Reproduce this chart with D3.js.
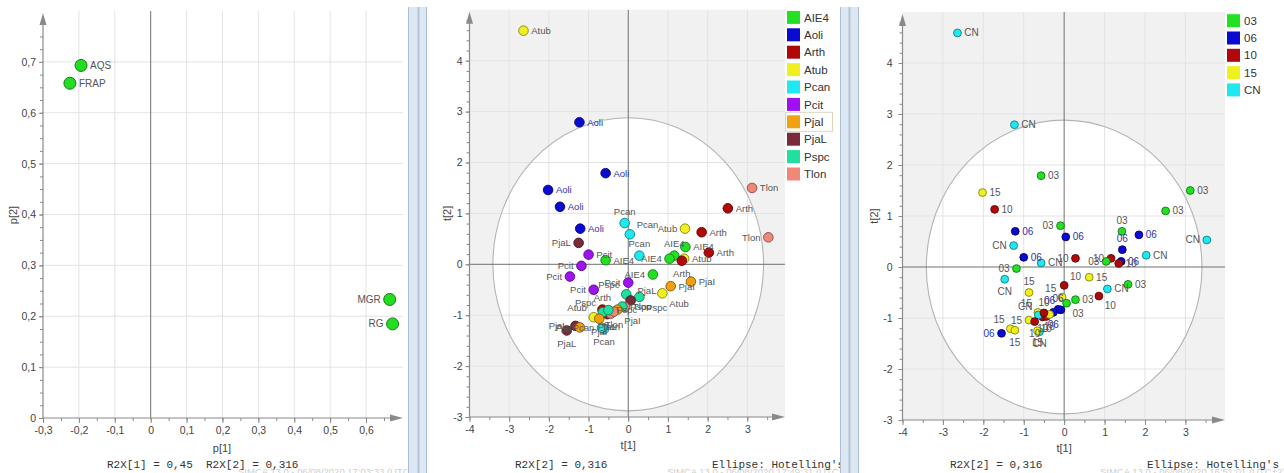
<!DOCTYPE html>
<html>
<head>
<meta charset="utf-8">
<script src="https://cdn.jsdelivr.net/npm/d3@7"></script>
<style>
  html, body { margin: 0; padding: 0; background: #fff; }
  svg { display: block; font-family: "Liberation Sans", Arial, sans-serif; }
</style>
</head>
<body>
<svg id="chart" width="1284" height="473"></svg>
<script>
// ---------------- Loadings (p[1] / p[2]) ----------------
const loadingNames = ["AQS", "FRAP", "MGR", "RG"];
const loadingP1 = [-0.194, -0.225, 0.666, 0.674];
const loadingP2 = [0.693, 0.658, 0.233, 0.185];
const loadingLabelSide = ["r", "r", "l", "l"];
const p1Ticks = [-0.3, -0.2, -0.1, 0, 0.1, 0.2, 0.3, 0.4, 0.5, 0.6];
const p1TickLabels = ["-0,3", "-0,2", "-0,1", "0", "0,1", "0,2", "0,3", "0,4", "0,5", "0,6"];
const p2Ticks = [0, 0.1, 0.2, 0.3, 0.4, 0.5, 0.6, 0.7];
const p2TickLabels = ["0", "0,1", "0,2", "0,3", "0,4", "0,5", "0,6", "0,7"];

// ---------------- Scores (t[1] / t[2]) ----------------
const speciesGroups = ["AIE4", "Aoli", "Arth", "Atub", "Pcan", "Pcit", "PjaI", "PjaL", "Pspc", "Tlon"];
const speciesColors = ["#22e022", "#0a0ad0", "#b00808", "#f0f020", "#20e8f0", "#a010f0", "#f0a010", "#7a2a38", "#20e0a0", "#f08878"];
const concGroups = ["03", "06", "10", "15", "CN"];
const concColors = ["#22e022", "#0a0ad0", "#b00808", "#f0f020", "#20e8f0"];

const scoreSpecies = ["Atub","Aoli","Aoli","Aoli","Aoli","Aoli","Tlon","Arth","Tlon","Pcan",
                      "Pcan","Atub","Arth","AIE4","Arth","AIE4","AIE4","Atub","Arth","Pcan",
                      "AIE4","PjaL","Pcit","Pcit","Pcit","Pcit","Pcit","AIE4","PjaI","PjaI",
                      "Atub","Pspc","Pspc","PjaL","Tlon","Pspc","Arth","PjaI","PjaL","Tlon",
                      "Pspc","Atub","PjaI","Pcan","Pcan","PjaL","PjaL","PjaI","Tlon","Pspc"];
const scoreConc = ["CN","CN","03","15","10","06","03","03","CN","03",
                   "06","03","06","06","CN","10","03","06","10","10",
                   "CN","CN","06","03","CN","15","10","15","03","CN",
                   "10","15","03","03","06","06","15","06","10","10",
                   "CN","15","10","CN","15","06","15","15","15","10"];
const scoreT1 = [-2.64,-1.23,-0.57,-2.02,-1.72,-1.21, 3.12, 2.51, 3.53,-0.09,
                  0.04, 1.43, 1.85, 1.44, 2.03, 1.16, 1.04, 1.41, 1.35, 0.28,
                 -0.57,-1.25,-1.00,-1.18,-1.47,-0.87, 0.00, 0.62, 1.58, 1.07,
                  0.86,-0.05, 0.28, 0.06,-0.08,-0.15,-0.65,-0.27,-0.53,-0.44,
                 -0.64,-0.87,-0.73,-0.61,-0.66,-1.55,-1.33,-1.22,-0.36,-0.50];
const scoreT2 = [ 4.59, 2.79, 1.79, 1.46, 1.13, 0.70, 1.50, 1.10, 0.53, 0.81,
                  0.59, 0.70, 0.63, 0.34, 0.23, 0.17, 0.11, 0.11, 0.07, 0.17,
                  0.08, 0.42, 0.19,-0.03,-0.24,-0.50,-0.36,-0.20,-0.34,-0.43,
                 -0.57,-0.59,-0.64,-0.71,-0.84,-0.83,-0.89,-0.89,-0.98,-0.97,
                 -0.94,-1.04,-1.07,-1.27,-1.25,-1.30,-1.21,-1.24,-0.93,-0.90];
const t1Ticks = [-4, -3, -2, -1, 0, 1, 2, 3];
const t1TickLabels = ["-4", "-3", "-2", "-1", "0", "1", "2", "3"];
const t2Ticks = [-3, -2, -1, 0, 1, 2, 3, 4];
const t2TickLabels = ["-3", "-2", "-1", "0", "1", "2", "3", "4"];
// Hotelling's T2 (95%) ellipse semi-axes in score units
const ellipseT1 = 3.41;
const ellipseT2 = 2.88;

// label placement (layout only)
const speciesLabelSide = ["r","r","r","r","r","r","r","r","l","t",
                          "tr","l","r","r","r","t","l","r","b","t",
                          "r","l","r","l","l","l","l","l","r","r",
                          "br","tl","br","tr","r","r","t","br","b","b",
                          "tl","tl","b","b","l","b","l","l","b","r"];
const concLabelSide = ["r","r","r","r","r","r","r","r","l","l",
                       "r","t","r","t","r","l","l","r","r","l",
                       "r","l","r","l","b","t","tr","r","r","r",
                       "br","tl","r","br","tl","t","tl","b","b","b",
                       "tl","l","b","b","b","l","tl","b","b","t"];

// ---------------- helpers ----------------
const svg = d3.select("#chart");
const defs = svg.append("defs");
const AXIS = "#8a8a8a", GRID = "#e3e3e3", ZERO = "#707070", TXT = "#444", LBL = "#555";
const BLUE_LBL = "#2a34a8";

function clip(id, x, y, w, h) {
  defs.append("clipPath").attr("id", id)
    .append("rect").attr("x", x).attr("y", y).attr("width", w).attr("height", h);
  return "url(#" + id + ")";
}

function labelPos(side, r) {
  switch (side) {
    case "l":  return {dx: -(r + 3), dy: 0, a: "end"};
    case "t":  return {dx: 0, dy: -(r + 7), a: "middle"};
    case "b":  return {dx: 0, dy: r + 8, a: "middle"};
    case "tr": return {dx: r + 2, dy: -(r + 5), a: "start"};
    case "tl": return {dx: -(r + 2), dy: -(r + 5), a: "end"};
    case "br": return {dx: r + 2, dy: r + 6, a: "start"};
    case "bl": return {dx: -(r + 2), dy: r + 6, a: "end"};
    default:   return {dx: r + 3, dy: 0, a: "start"};
  }
}

// axes with arrows, major + minor ticks
function drawAxes(g, x, y, o) {
  const [x0, x1] = x.range(), [y0, y1] = y.range();
  // minor ticks (no labels)
  g.append("g").attr("transform", `translate(0,${y0})`)
    .call(d3.axisBottom(x).tickValues(o.xMinor).tickSize(3).tickFormat(() => ""))
    .call(s => { s.select(".domain").remove(); s.selectAll("text").remove(); });
  g.append("g").attr("transform", `translate(${x0},0)`)
    .call(d3.axisLeft(y).tickValues(o.yMinor).tickSize(3).tickFormat(() => ""))
    .call(s => { s.select(".domain").remove(); s.selectAll("text").remove(); });
  // major ticks
  g.append("g").attr("transform", `translate(0,${y0})`)
    .call(d3.axisBottom(x).tickValues(o.xTicks).tickSize(5).tickPadding(o.xPad)
      .tickFormat((d, i) => o.xLabels[i]))
    .call(s => s.select(".domain").remove());
  g.append("g").attr("transform", `translate(${x0},0)`)
    .call(d3.axisLeft(y).tickValues(o.yTicks).tickSize(4).tickPadding(o.yPad)
      .tickFormat((d, i) => o.yLabels[i]))
    .call(s => s.select(".domain").remove());
  g.selectAll(".tick line").attr("stroke", AXIS);
  g.selectAll(".tick text").attr("fill", TXT).style("font-size", "10.5px")
    .style("font-family", "'Liberation Sans', Arial, sans-serif");
  // axis lines + arrow heads
  g.append("line").attr("x1", x0).attr("x2", x1 - 6).attr("y1", y0).attr("y2", y0)
    .attr("stroke", AXIS).attr("stroke-width", 1.2);
  g.append("line").attr("x1", x0).attr("x2", x0).attr("y1", y0).attr("y2", y1 + 6)
    .attr("stroke", AXIS).attr("stroke-width", 1.2);
  g.append("path").attr("fill", AXIS)
    .attr("d", `M${x1},${y0} L${x1 - 13},${y0 - 3.5} L${x1 - 13},${y0 + 3.5} Z`);
  g.append("path").attr("fill", AXIS)
    .attr("d", `M${x0},${y1 + 2} L${x0 - 3.5},${y1 + 14} L${x0 + 3.5},${y1 + 14} Z`);
}

function grid(g, x, y, xs, ys) {
  const [x0, x1] = x.range(), [y0, y1] = y.range();
  g.append("g").selectAll("line").data(xs).join("line")
    .attr("x1", d => x(d)).attr("x2", d => x(d)).attr("y1", y0).attr("y2", y1)
    .attr("stroke", GRID).attr("stroke-width", 1);
  g.append("g").selectAll("line").data(ys).join("line")
    .attr("x1", x0).attr("x2", x1).attr("y1", d => y(d)).attr("y2", d => y(d))
    .attr("stroke", GRID).attr("stroke-width", 1);
}

function zeroLines(g, x, y, vertical, horizontal) {
  const [x0, x1] = x.range(), [y0, y1] = y.range();
  if (vertical) g.append("line").attr("x1", x(0)).attr("x2", x(0)).attr("y1", y0).attr("y2", y1)
    .attr("stroke", ZERO).attr("stroke-width", 1);
  if (horizontal) g.append("line").attr("x1", x0).attr("x2", x1).attr("y1", y(0)).attr("y2", y(0))
    .attr("stroke", ZERO).attr("stroke-width", 1);
}

function monoText(x, y, t, clipUrl) {
  svg.append("text").attr("x", x).attr("y", y).text(t)
    .attr("fill", "#333").attr("clip-path", clipUrl || null)
    .style("font-family", "'Liberation Mono', 'DejaVu Sans Mono', monospace")
    .style("font-size", "11px").attr("xml:space", "preserve").style("white-space", "pre");
}
function stampText(x, t, clipUrl) {
  svg.append("text").attr("x", x).attr("y", 475).text(t)
    .attr("fill", "#cfcfcf").style("font-size", "9.5px").attr("clip-path", clipUrl || null);
}

// ================= Panel 1 : loadings =================
(function () {
  const x = d3.scaleLinear().domain([-0.3, 0.703]).range([43, 403]);
  const y = d3.scaleLinear().domain([0, 0.8]).range([418, 11]);
  const g = svg.append("g");
  grid(g, x, y, p1Ticks.filter(d => d > -0.3 && d !== 0), p2Ticks.filter(d => d > 0));
  zeroLines(g, x, y, true, false);
  drawAxes(g, x, y, {
    xTicks: p1Ticks, yTicks: p2Ticks, xLabels: p1TickLabels, yLabels: p2TickLabels, xPad: 4, yPad: 3,
    xMinor: d3.range(0, 20).map(i => -0.3 + i * 0.05),
    yMinor: d3.range(0, 32).map(i => i * 0.025)
  });
  const pts = loadingNames.map((n, i) => ({n, p1: loadingP1[i], p2: loadingP2[i], side: loadingLabelSide[i]}));
  g.append("g").selectAll("circle").data(pts).join("circle")
    .attr("cx", d => x(d.p1)).attr("cy", d => y(d.p2)).attr("r", 6)
    .attr("fill", "#22dd22").attr("stroke", d3.color("#22dd22").darker(1.6)).attr("stroke-width", 1);
  g.append("g").selectAll("text").data(pts).join("text")
    .each(function (d) {
      const p = labelPos(d.side, 6);
      d3.select(this).attr("x", x(d.p1) + p.dx).attr("y", y(d.p2) + p.dy).attr("text-anchor", p.a);
    })
    .attr("dy", "0.35em").text(d => d.n).attr("fill", LBL).style("font-size", "10px");
  g.append("text").attr("transform", "translate(17,215) rotate(-90)").attr("text-anchor", "middle")
    .text("p[2]").attr("fill", TXT).style("font-size", "11px");
  g.append("text").attr("x", 222).attr("y", 452).attr("text-anchor", "middle")
    .text("p[1]").attr("fill", TXT).style("font-size", "11px");
  const c1 = clip("clip-b1", 0, 440, 407, 40);
  stampText(238, "SIMCA 13.0 - 06/08/2020 17:03:33 (UTC+2)", c1);
  monoText(107, 468, "R2X[1] = 0,45  R2X[2] = 0,316");
})();

// ================= Score panels =================
function scorePanel(o) {
  const x = d3.scaleLinear().domain(o.xDom).range(o.xRange);
  const y = d3.scaleLinear().domain([-3, 5]).range(o.yRange);
  const g = svg.append("g");
  const [x0, x1] = x.range(), [y0, y1] = y.range();
  g.append("rect").attr("x", x0).attr("y", y1).attr("width", x1 - x0).attr("height", y0 - y1)
    .attr("fill", "#f1f1f1");
  g.append("ellipse").attr("cx", x(0)).attr("cy", y(0))
    .attr("rx", x(ellipseT1) - x(0)).attr("ry", y(0) - y(ellipseT2)).attr("fill", "#fff");
  grid(g, x, y, t1Ticks.filter(d => d > -4 && d !== 0), t2Ticks.filter(d => d > -3 && d !== 0));
  g.append("ellipse").attr("cx", x(0)).attr("cy", y(0))
    .attr("rx", x(ellipseT1) - x(0)).attr("ry", y(0) - y(ellipseT2))
    .attr("fill", "none").attr("stroke", "#b4b4b4").attr("stroke-width", 1.1);
  zeroLines(g, x, y, true, true);
  drawAxes(g, x, y, {
    xTicks: t1Ticks, yTicks: t2Ticks, xLabels: t1TickLabels, yLabels: t2TickLabels, xPad: 4, yPad: o.yPad,
    xMinor: d3.range(0, 16).map(i => -4 + i * 0.5),
    yMinor: d3.range(0, 40).map(i => -3 + i * 0.2)
  });
  const color = d3.scaleOrdinal().domain(o.groups).range(o.colors);
  const pts = scoreT1.map((t1, i) => ({t1, t2: scoreT2[i], grp: o.groupOf[i], side: o.sides[i]}));
  const r = o.r;
  const pc = clip(o.id + "-plot", x0, y1, x1 - x0, y0 - y1);
  const pg = g.append("g").attr("clip-path", pc);
  pg.append("g").selectAll("circle").data(pts).join("circle")
    .attr("cx", d => x(d.t1)).attr("cy", d => y(d.t2)).attr("r", r)
    .attr("fill", d => color(d.grp)).attr("stroke", d => d3.color(color(d.grp)).darker(1.7))
    .attr("stroke-width", 0.9);
  pg.append("g").selectAll("text").data(pts).join("text")
    .each(function (d) {
      const p = labelPos(d.side, r);
      d3.select(this).attr("x", x(d.t1) + p.dx).attr("y", y(d.t2) + p.dy).attr("text-anchor", p.a);
    })
    .attr("dy", "0.35em").text(d => d.grp)
    .attr("fill", d => d.grp === o.blueGroup ? BLUE_LBL : LBL).style("font-size", o.labelSize);
  // legend
  const lg = g.append("g");
  lg.append("rect").attr("x", x1).attr("y", 0).attr("width", o.legendW).attr("height", 420).attr("fill", "#fff");
  if (o.selected) {
    const si = o.groups.indexOf(o.selected);
    lg.append("rect").attr("x", x1 + 0.5).attr("y", o.legendY + si * o.legendStep - 9.5)
      .attr("width", 47).attr("height", 19).attr("fill", "#fff")
      .attr("stroke", "#ddd6bc").attr("stroke-width", 1);
  }
  o.groups.forEach((gr, i) => {
    const cy = o.legendY + i * o.legendStep;
    lg.append("rect").attr("x", o.legendX).attr("y", cy - 6.5).attr("width", 13).attr("height", 13)
      .attr("fill", color(gr));
    lg.append("text").attr("x", o.legendX + 17).attr("y", cy).attr("dy", "0.36em")
      .text(gr).attr("fill", "#333").style("font-size", "11.5px");
  });
  g.append("text").attr("transform", `translate(${o.yLabelX},${y(1)}) rotate(-90)`).attr("text-anchor", "middle")
    .text("t[2]").attr("fill", TXT).style("font-size", "11px");
  g.append("text").attr("x", x(0)).attr("y", o.xLabelY).attr("text-anchor", "middle")
    .text("t[1]").attr("fill", TXT).style("font-size", "11px");
  const bc = clip(o.id + "-bottom", o.clipX0, 440, o.clipX1 - o.clipX0, 40);
  stampText(o.stampX, o.stamp, bc);
  monoText(o.r2xX, 468, "R2X[2] = 0,316");
  monoText(o.ellX, 468, "Ellipse: Hotelling's T2 (95%)", bc);
}

scorePanel({
  id: "sp", xDom: [-4, 3.95], xRange: [469.5, 785], yRange: [417, 9.8], yPad: 3,
  groups: speciesGroups, colors: speciesColors, groupOf: scoreSpecies, sides: speciesLabelSide,
  r: 4.8, labelSize: "9.5px", blueGroup: "Aoli", selected: "PjaI",
  legendW: 52, legendX: 787, legendY: 17.4, legendStep: 17.4,
  yLabelX: 451, xLabelY: 449, clipX0: 428, clipX1: 840,
  stamp: "SIMCA 13.0 - 06/08/2020 17:49:31 (UTC+2)", stampX: 667, r2xX: 515, ellX: 712
});

scorePanel({
  id: "cp", xDom: [-4, 3.98], xRange: [902.5, 1225], yRange: [420, 12], yPad: 6,
  groups: concGroups, colors: concColors, groupOf: scoreConc, sides: concLabelSide,
  r: 3.9, labelSize: "10px", blueGroup: "06", selected: null,
  legendW: 59, legendX: 1227, legendY: 20.7, legendStep: 17.3,
  yLabelX: 878, xLabelY: 452, clipX0: 860, clipX1: 1284,
  stamp: "SIMCA 13.0 - 06/08/2020 16:51:01 (UTC+2)", stampX: 1100, r2xX: 950, ellX: 1147
});

// ================= window splitters =================
function splitter(xl, w, xm) {
  const g = svg.append("g");
  g.append("rect").attr("x", xl).attr("y", 7).attr("width", w).attr("height", 470).attr("fill", "#dce7f3");
  g.append("line").attr("x1", xl + 0.5).attr("x2", xl + 0.5).attr("y1", 7).attr("y2", 473).attr("stroke", "#a9bdd3");
  g.append("line").attr("x1", xl + w - 0.5).attr("x2", xl + w - 0.5).attr("y1", 7).attr("y2", 473).attr("stroke", "#a9bdd3");
  g.append("rect").attr("x", xm).attr("y", 7).attr("width", 2).attr("height", 470).attr("fill", "#b3c4d8");
}
splitter(408, 19, 417.5);
splitter(840, 19, 848.5);
</script>
</body>
</html>
